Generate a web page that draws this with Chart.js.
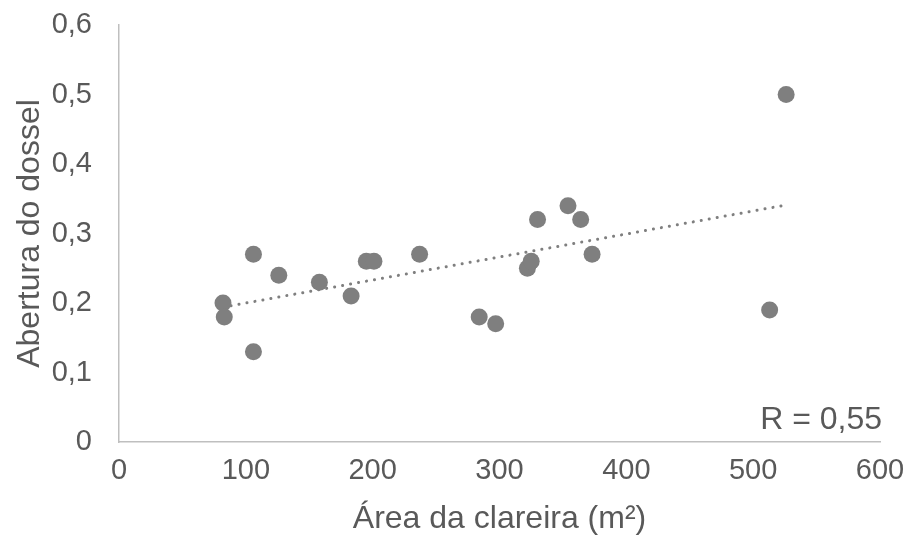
<!DOCTYPE html>
<html>
<head>
<meta charset="utf-8">
<script src="https://cdn.jsdelivr.net/npm/chart.js@4"></script>
<style>
  html, body { margin: 0; padding: 0; background: #fff; }
  #wrap { width: 911px; height: 538px; }
</style>
</head>
<body>
<div id="wrap"><canvas id="gapChart" width="911" height="538"></canvas></div>
<script>
// valores
const areaClareira = [82, 83, 106, 106, 126, 158, 183, 195, 201, 237, 284, 297, 322, 325, 330, 354, 364, 373, 513, 526];
const aberturaDossel = [0.20, 0.18, 0.27, 0.13, 0.24, 0.23, 0.21, 0.26, 0.26, 0.27, 0.18, 0.17, 0.25, 0.26, 0.32, 0.34, 0.32, 0.27, 0.19, 0.50];
const trendX = [82, 526];
const trendY = [0.194, 0.341];
const xTickLabels = ['0', '100', '200', '300', '400', '500', '600'];
const yTickLabels = ['0', '0,1', '0,2', '0,3', '0,4', '0,5', '0,6'];
const rLabel = 'R = 0,55';

const grey = '#7f7f7f';
const textGrey = '#595959';
const axisGrey = '#bfbfbf';
const fontFam = '"Liberation Sans", Arial, sans-serif';

const rText = {
    id: 'rText',
    afterDraw(chart) {
        const { ctx, chartArea } = chart;
        ctx.save();
        ctx.font = '32px ' + fontFam;
        ctx.fillStyle = textGrey;
        ctx.textAlign = 'right';
        ctx.textBaseline = 'alphabetic';
        ctx.fillText(rLabel, chartArea.right + 2, chartArea.bottom - 13);
        ctx.restore();
    }
};

const ctx = document.getElementById('gapChart').getContext('2d');
new Chart(ctx, {
    type: 'scatter',
    data: {
        datasets: [{
            label: 'pontos',
            data: areaClareira.map((x, i) => ({ x: x, y: aberturaDossel[i] })),
            backgroundColor: grey,
            borderWidth: 0,
            pointRadius: 8.5,
            pointHoverRadius: 8.5
        }, {
            type: 'line',
            label: 'tendencia',
            data: trendX.map((x, i) => ({ x: x, y: trendY[i] })),
            borderColor: grey,
            borderWidth: 3,
            borderDash: [0.1, 8],
            borderCapStyle: 'round',
            pointRadius: 0,
            fill: false
        }]
    },
    plugins: [rText],
    options: {
        responsive: false,
        animation: false,
        layout: { padding: { top: 25, right: 31, left: 0, bottom: 0 } },
        plugins: {
            legend: { display: false },
            tooltip: { enabled: false }
        },
        scales: {
            x: {
                type: 'linear',
                min: 0, max: 600,
                ticks: {
                    stepSize: 100,
                    padding: 12,
                    color: textGrey,
                    font: { family: fontFam, size: 29 },
                    maxRotation: 0,
                    callback: (v) => xTickLabels[Math.round(v / 100)]
                },
                grid: { display: false, drawTicks: false },
                border: { display: true, color: axisGrey, width: 1.5 },
                title: {
                    display: true,
                    text: 'Área da clareira (m²)',
                    color: textGrey,
                    font: { family: fontFam, size: 32 },
                    padding: { top: 0, bottom: 0 }
                },
                afterFit: (scale) => {
                    scale.height = 96;
                    scale.paddingLeft = 0;
                    scale.paddingRight = 0;
                }
            },
            y: {
                min: 0, max: 0.6,
                ticks: {
                    stepSize: 0.1,
                    padding: 27,
                    color: textGrey,
                    font: { family: fontFam, size: 29 },
                    callback: (v) => yTickLabels[Math.round(v * 10)]
                },
                grid: { display: false, drawTicks: false },
                border: { display: true, color: axisGrey, width: 1.5 },
                title: {
                    display: true,
                    text: 'Abertura do dossel',
                    color: textGrey,
                    font: { family: fontFam, size: 32 },
                    padding: { top: 11, bottom: 0 }
                },
                afterFit: (scale) => {
                    scale.width = 119;
                    scale.paddingTop = 0;
                    scale.paddingBottom = 0;
                }
            }
        }
    }
});
</script>
</body>
</html>
